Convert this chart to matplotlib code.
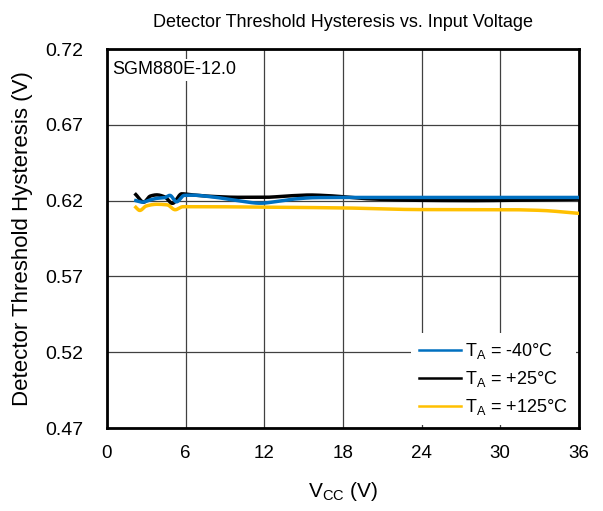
import matplotlib
matplotlib.use("Agg")
import matplotlib.pyplot as plt
import numpy as np

plt.rcParams['font.family'] = ['Liberation Sans', 'DejaVu Sans']

vcc_m40 = [2.2, 2.7, 3.3, 3.8, 4.4, 4.8, 5.3, 5.9, 6.5, 8, 10, 11.7, 13, 14.2, 16, 18, 22, 26, 30, 33, 36]
hys_m40 = [0.6200, 0.6190, 0.6205, 0.6215, 0.6220, 0.6235, 0.6192, 0.6235, 0.6236, 0.6225, 0.6200, 0.6183, 0.6195, 0.6210, 0.6220, 0.6221, 0.6221, 0.6221, 0.6221, 0.6221, 0.6221]

vcc_25 = [2.2, 2.8, 3.3, 3.8, 4.4, 5.0, 5.7, 6.5, 8, 10, 12, 14, 15.5, 17, 20, 24, 28, 32, 36]
hys_25 = [0.6240, 0.6190, 0.6230, 0.6238, 0.6225, 0.6182, 0.6245, 0.6238, 0.6228, 0.6222, 0.6222, 0.6232, 0.6237, 0.6232, 0.6212, 0.6202, 0.6200, 0.6204, 0.6210]

vcc_125 = [2.2, 2.5, 3.0, 3.8, 4.6, 5.2, 5.8, 7, 12, 18, 24, 30, 33, 36]
hys_125 = [0.6156, 0.6135, 0.6165, 0.6176, 0.6172, 0.6140, 0.6160, 0.6160, 0.6157, 0.6152, 0.6141, 0.6141, 0.6136, 0.6116]

labels = ['T$_\\mathregular{A}$ = -40\u00b0C', 'T$_\\mathregular{A}$ = +25\u00b0C', 'T$_\\mathregular{A}$ = +125\u00b0C']
colors = ['#0070C0', '#000000', '#FFC000']

x_ticks = [0, 6, 12, 18, 24, 30, 36]
y_ticks = [0.47, 0.52, 0.57, 0.62, 0.67, 0.72]


def smooth(x, y, n=400):
    x = np.asarray(x, float)
    y = np.asarray(y, float)
    h = np.diff(x)
    d = np.diff(y) / h
    m = np.zeros_like(y)
    m[0] = d[0]
    m[-1] = d[-1]
    for i in range(1, len(x) - 1):
        if d[i - 1] * d[i] <= 0:
            m[i] = 0
        else:
            w1 = 2 * h[i] + h[i - 1]
            w2 = h[i] + 2 * h[i - 1]
            m[i] = (w1 + w2) / (w1 / d[i - 1] + w2 / d[i])
    xs = np.linspace(x[0], x[-1], n)
    ys = np.empty_like(xs)
    for j, xv in enumerate(xs):
        i = min(np.searchsorted(x, xv) - 1, len(x) - 2)
        i = max(i, 0)
        t = (xv - x[i]) / h[i]
        h00 = 2 * t**3 - 3 * t**2 + 1
        h10 = t**3 - 2 * t**2 + t
        h01 = -2 * t**3 + 3 * t**2
        h11 = t**3 - t**2
        ys[j] = h00 * y[i] + h10 * h[i] * m[i] + h01 * y[i + 1] + h11 * h[i] * m[i + 1]
    return xs, ys


fig = plt.figure(figsize=(6.03, 5.11), dpi=100)
ax = fig.add_axes([0.1774, 0.1624, 0.7826, 0.7416])

series = [(vcc_m40, hys_m40), (vcc_25, hys_25), (vcc_125, hys_125)]
handles = [None] * 3
zorders = [5, 4, 3]
for i in [2, 1, 0]:
    xs, ys = smooth(*series[i])
    (ln,) = ax.plot(xs, ys, color=colors[i], lw=2.5, label=labels[i], zorder=zorders[i])
    handles[i] = ln

ax.set_xlim(0, 36)
ax.set_ylim(0.47, 0.72)
ax.set_xticks(x_ticks)
ax.set_yticks(y_ticks)
ax.set_xticklabels([str(v) for v in x_ticks])
ax.set_yticklabels([f"{v:.2f}" for v in y_ticks])
ax.tick_params(axis='x', length=0, labelsize=13.5, pad=12, colors='black')
ax.tick_params(axis='y', length=0, labelsize=14, pad=17, colors='black')
ax.grid(True, color='#404040', lw=0.9)
ax.set_axisbelow(True)
for s in ax.spines.values():
    s.set_linewidth(2)
    s.set_color('black')

ax.set_xlabel('V$_\\mathregular{CC}$ (V)', fontsize=15, labelpad=13)
ax.set_ylabel('Detector Threshold Hysteresis (V)', fontsize=16, labelpad=9)
ax.set_title('Detector Threshold Hysteresis vs. Input Voltage', fontsize=13, pad=16)

ax.text(0.011, 0.945, 'SGM880E-12.0', transform=ax.transAxes, ha='left', va='center', fontsize=13,
        bbox=dict(facecolor='white', edgecolor='none', pad=1.5), zorder=6)

leg = ax.legend(handles=handles, loc='lower right', fontsize=13, frameon=True, framealpha=1,
                edgecolor='none', fancybox=False, handlelength=2.3, handletextpad=0.25,
                borderaxespad=0.15, labelspacing=0.45, borderpad=0.45)
for l in leg.get_lines():
    l.set_linewidth(1.8)

fig.savefig('out.png', dpi=100)
